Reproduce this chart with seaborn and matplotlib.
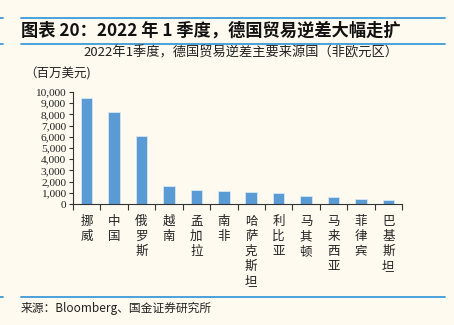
import matplotlib
matplotlib.use("Agg")
import matplotlib.pyplot as plt
import seaborn as sns
import pandas as pd
from matplotlib.lines import Line2D
from matplotlib.ticker import FuncFormatter, FixedLocator

countries = ["挪威", "中国", "俄罗斯", "越南", "孟加拉", "南非", "哈萨克斯坦",
             "利比亚", "马其顿", "马来西亚", "菲律宾", "巴基斯坦"]
deficit = [9450, 8180, 6030, 1600, 1240, 1190, 1070, 950, 710, 650, 410, 355]
yticks = list(range(0, 10001, 1000))

title = "图表 20：2022 年 1 季度，德国贸易逆差大幅走扩"
subtitle = "2022年1季度，德国贸易逆差主要来源国（非欧元区）"
unit = "（百万美元)"
source = "来源：Bloomberg、国金证券研究所"

sns.set_theme(style="white")
plt.rcParams['font.family'] = ['Noto Sans CJK SC', 'DejaVu Sans']

bg = "#FEFAF0"
blue = "#5B9BD5"
line_blue = "#3D9AD8"

fig = plt.figure(figsize=(4.54, 3.25), dpi=100, facecolor=bg)
ax = fig.add_axes([73/454, 1-204/325, (402-73)/454, (204-92)/325])
ax.set_facecolor(bg)

df = pd.DataFrame({"country": countries, "value": deficit})
sns.barplot(data=df, x="country", y="value", ax=ax, color=blue, width=0.42,
            edgecolor="#D6E6F4", linewidth=0.6, saturation=1)

ax.set_xlim(-0.5, len(countries) - 0.5)
ax.set_ylim(0, 10000)
ax.set_yticks(yticks)
ax.yaxis.set_major_formatter(FuncFormatter(lambda v, p: f"{int(v):,}"))
for lab in ax.get_yticklabels():
    lab.set_family("Liberation Serif")
    lab.set_fontsize(8.2)
    lab.set_color("#222222")
ax.tick_params(axis="y", length=3, width=0.8, color="#333333", pad=2, left=True)

ax.set_xticks(range(len(countries)))
ax.set_xticklabels(["\n".join(c) for c in countries], fontsize=9,
                   color="#222222", linespacing=1.2, va="top")
ax.tick_params(axis="x", which="major", length=0, pad=8)
ax.xaxis.set_minor_locator(FixedLocator([i - 0.5 for i in range(len(countries) + 1)]))
ax.tick_params(axis="x", which="minor", length=4, width=0.8, color="#333333", bottom=True)

ax.set_xlabel("")
ax.set_ylabel("")
for s in ["top", "right"]:
    ax.spines[s].set_visible(False)
for s in ["left", "bottom"]:
    ax.spines[s].set_color("#333333")
    ax.spines[s].set_linewidth(0.8)

# header lines
for y in [18, 44, 297]:
    fy = 1 - y / 325
    fig.add_artist(Line2D([21/454, 445/454], [fy, fy], color=line_blue, lw=1.3))
    fig.add_artist(Line2D([0, 3/454], [fy, fy], color=line_blue, lw=1.3))

fig.text(21/454, 1-31/325, title, fontsize=12.4, fontweight="bold",
         va="center", ha="left", color="#111111")
fig.text(241/454, 1-53/325, subtitle, fontsize=9.5, va="center", ha="center",
         color="#222222")
fig.text(24/454, 1-74/325, unit, fontsize=9, va="center", ha="left", color="#222222")
fig.text(21/454, 1-308/325, source, fontsize=8.5, va="center", ha="left", color="#222222")

fig.savefig("out.png", dpi=100, facecolor=bg)
